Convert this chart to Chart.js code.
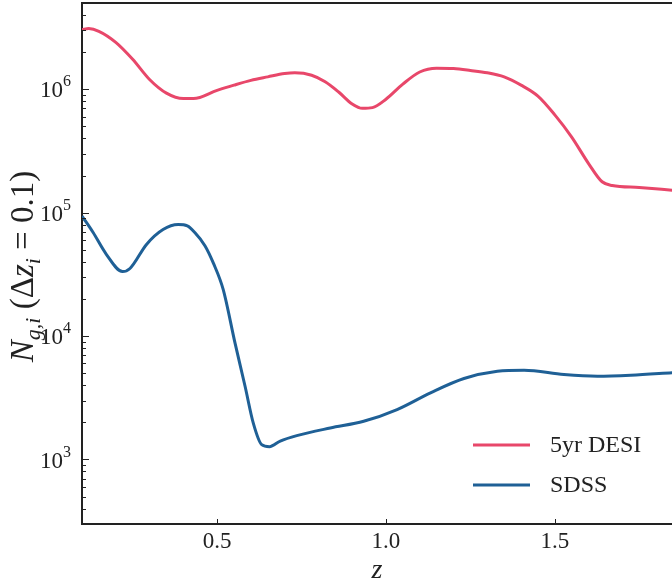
<!DOCTYPE html>
<html><head><meta charset="utf-8">
<script src="https://cdn.jsdelivr.net/npm/chart.js@4.4.1/dist/chart.umd.min.js"></script>
<style>html,body{margin:0;padding:0;background:#fff;overflow:hidden}#wrap{width:672px;height:587px;position:relative}</style>
</head><body><div id="wrap"><canvas id="c"></canvas></div>
<script>
// ---- data ----
const desiZ = [0.10,0.12,0.15,0.20,0.25,0.30,0.35,0.40,0.43,0.50,0.55,0.60,0.65,0.70,0.73,0.78,0.82,0.86,0.90,0.93,0.96,1.00,1.05,1.10,1.15,1.20,1.25,1.30,1.35,1.40,1.45,1.50,1.55,1.60,1.64,1.67,1.75,1.85];
const desiN = [3.05e6,3.1e6,2.95e6,2.4e6,1.75e6,1.2e6,9.3e5,8.4e5,8.4e5,9.8e5,1.08e6,1.18e6,1.26e6,1.34e6,1.36e6,1.3e6,1.15e6,9.5e5,7.6e5,7.0e5,7.1e5,8.3e5,1.1e6,1.38e6,1.48e6,1.47e6,1.42e6,1.36e6,1.26e6,1.08e6,8.8e5,6.2e5,4.1e5,2.5e5,1.78e5,1.66e5,1.6e5,1.52e5];
const sdssZ = [0.10,0.133,0.172,0.220,0.242,0.291,0.340,0.385,0.412,0.434,0.464,0.489,0.518,0.553,0.583,0.607,0.632,0.655,0.687,0.736,0.835,0.934,1.033,1.132,1.231,1.330,1.409,1.527,1.626,1.725,1.85];
const sdssN = [9.4e4,6.9e4,4.6e4,3.33e4,3.53e4,5.53e4,7.3e4,8.0e4,7.8e4,6.9e4,5.4e4,3.9e4,2.39e4,8.8e3,3.9e3,1.98e3,1.32e3,1.27e3,1.41e3,1.56e3,1.80e3,2.04e3,2.54e3,3.47e3,4.53e3,5.19e3,5.29e3,4.88e3,4.73e3,4.82e3,5.06e3];
const seriesNames = ['5yr DESI','SDSS'];
const seriesColors = ['#e8476a','#1f6096'];
const xTickValues = [0.5,1.0,1.5];
const xTickLabels = ['0.5','1.0','1.5'];
const yTickExponents = [3,4,5,6];
const xRange = [0.1,1.847];
const yRange = [300,5e6];

const SERIF = "'Liberation Serif','DejaVu Serif',serif";
const INK = '#222';

const toPts = (xs, ys) => xs.map((x,i)=>({x:x,y:ys[i]}));

const decor = {
  id:'decor',
  afterDraw(chart){
    const ctx = chart.ctx, a = chart.chartArea, xs = chart.scales.x, ys = chart.scales.y;
    ctx.save();
    ctx.strokeStyle = INK; ctx.fillStyle = INK;
    // top frame
    ctx.lineWidth = 2;
    ctx.beginPath(); ctx.moveTo(a.left-1, a.top); ctx.lineTo(a.right, a.top); ctx.stroke();
    // x inward ticks
    ctx.lineWidth = 1;
    xTickValues.forEach(v=>{
      const px = Math.round(xs.getPixelForValue(v))+0.5;
      ctx.beginPath(); ctx.moveTo(px, a.bottom); ctx.lineTo(px, a.bottom-5); ctx.stroke();
    });
    // y inward ticks (major + minor)
    for (let e=2;e<=6;e++){
      for (let m=1;m<=9;m++){
        const v = m*Math.pow(10,e);
        if (v<yRange[0]||v>yRange[1]) continue;
        const py = Math.round(ys.getPixelForValue(v))+0.5;
        const len = m===1?7:4;
        ctx.beginPath(); ctx.moveTo(a.left, py); ctx.lineTo(a.left+len, py); ctx.stroke();
      }
    }
    // y tick labels 10^e
    yTickExponents.forEach(e=>{
      const py = ys.getPixelForValue(Math.pow(10,e));
      ctx.font = '16px '+SERIF;
      const ew = ctx.measureText(String(e)).width;
      ctx.textAlign='left'; ctx.textBaseline='middle';
      const right = a.left-11;
      ctx.fillText(String(e), right-ew, py-7);
      ctx.font = '23px '+SERIF;
      ctx.textAlign='right';
      ctx.fillText('10', right-ew, py+2);
    });
    // x title
    ctx.font = 'italic 28px '+SERIF;
    ctx.textAlign='center'; ctx.textBaseline='alphabetic';
    ctx.fillText('z', (a.left+a.right)/2, 578);
    // y title (rotated)
    const parts = [
      {t:'N', f:'italic 33px', dy:0},
      {t:'g,i', f:'italic 22px', dy:7},
      {t:' (', f:'33px', dy:0},
      {t:'\u0394', f:'33px', dy:0},
      {t:'z', f:'italic 33px', dy:0},
      {t:'i', f:'italic 22px', dy:7},
      {t:' = 0.1)', f:'33px', dy:0}
    ];
    let total = 0;
    parts.forEach(p=>{ ctx.font = p.f+' '+SERIF; p.w = ctx.measureText(p.t).width; total += p.w; });
    ctx.save();
    ctx.translate(33, (a.top+a.bottom)/2 + 3);
    ctx.rotate(-Math.PI/2);
    ctx.textAlign='left'; ctx.textBaseline='alphabetic';
    let cx = -total/2;
    parts.forEach(p=>{ ctx.font = p.f+' '+SERIF; ctx.fillText(p.t, cx, p.dy); cx += p.w; });
    ctx.restore();
    // legend
    const ly = [445,485];
    seriesNames.forEach((n,i)=>{
      ctx.strokeStyle = seriesColors[i]; ctx.lineWidth = 3;
      ctx.beginPath(); ctx.moveTo(473, ly[i]); ctx.lineTo(530, ly[i]); ctx.stroke();
      ctx.fillStyle = INK; ctx.font = '24px '+SERIF;
      ctx.textAlign='left'; ctx.textBaseline='middle';
      ctx.fillText(n, 550, ly[i]+1);
    });
    ctx.restore();
  }
};

new Chart(document.getElementById('c'), {
  type:'line',
  data:{ datasets:[
    {label:seriesNames[0], data:toPts(desiZ,desiN), borderColor:seriesColors[0], borderWidth:3, pointRadius:0, tension:0.4, cubicInterpolationMode:'monotone', fill:false},
    {label:seriesNames[1], data:toPts(sdssZ,sdssN), borderColor:seriesColors[1], borderWidth:3, pointRadius:0, tension:0.3, cubicInterpolationMode:'monotone', fill:false}
  ]},
  options:{
    responsive:true, maintainAspectRatio:false, animation:false, devicePixelRatio:1,
    layout:{padding:{top:3,right:0,bottom:0,left:0}},
    plugins:{legend:{display:false}, tooltip:{enabled:false}},
    scales:{
      x:{type:'linear', min:xRange[0], max:xRange[1],
         grid:{display:false}, border:{display:true,color:INK,width:2},
         afterBuildTicks:s=>{ s.ticks = xTickValues.map(v=>({value:v})); },
         afterFit:s=>{ s.height = 63; },
         ticks:{font:{family:SERIF,size:23}, color:INK, padding:-4, maxRotation:0,
                callback:(v)=>{ const i = xTickValues.indexOf(v); return i>=0?xTickLabels[i]:''; }}},
      y:{type:'logarithmic', min:yRange[0], max:yRange[1],
         grid:{display:false}, border:{display:true,color:INK,width:2},
         ticks:{display:false},
         afterFit:s=>{ s.width = 82; }}
    }
  },
  plugins:[decor]
});
</script></body></html>
